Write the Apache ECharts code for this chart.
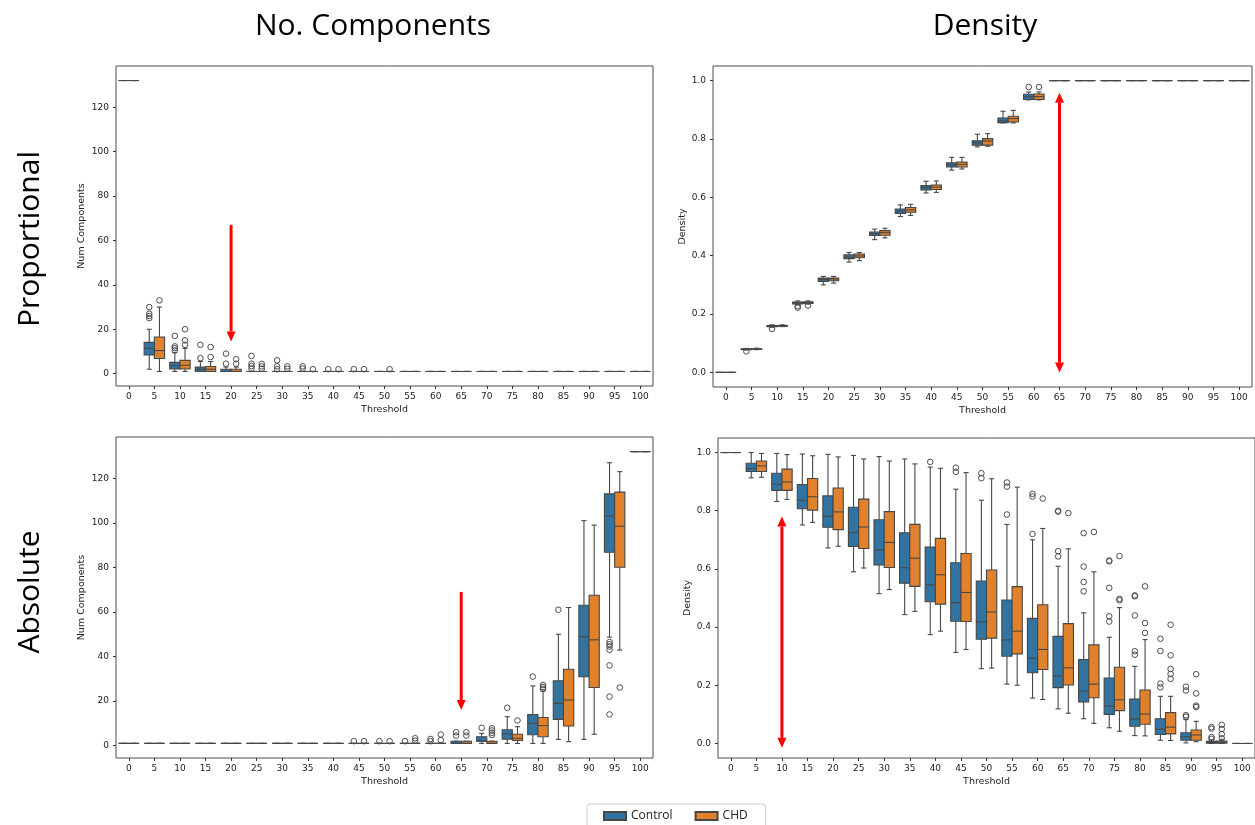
<!DOCTYPE html>
<html>
<head>
<meta charset="utf-8">
<title>Threshold boxplots</title>
<script src="https://cdn.jsdelivr.net/npm/echarts@6/dist/echarts.min.js"></script>
<style>
  html, body { margin: 0; padding: 0; background: #fff; }
  #main { width: 1255px; height: 825px; }
</style>
</head>
<body>
<div id="main"></div>
<script>
// categories and ticks
var thresholds = ['0','5','10','15','20','25','30','35','40','45','50','55','60','65','70','75','80','85','90','95','100'];
var compTicks = [0, 20, 40, 60, 80, 100, 120];
var densTicks = [0, 0.2, 0.4, 0.6, 0.8, 1.0];

// box stats per threshold: [lower whisker, q1, median, q3, upper whisker]
var one = [1, 1, 1, 1, 1];
var propCompCtrl = [
  [132,132,132,132,132], [2,8.4,11.4,14.1,20], [1,2.1,3.6,5.1,9.5], [1,1,2,3,5.5], [1,1,1,2,3],
  one, one, one, one, one, one, one, one, one, one, one, one, one, one, one, one
];
var propCompChd = [
  [132,132,132,132,132], [1,6.8,10.4,16.5,30], [1,2.1,3.8,6,11.4], [1,1,2,3.2,5.5], [1,1,1,2,3],
  one, one, one, one, one, one, one, one, one, one, one, one, one, one, one, one
];
var propCompCtrlOut = [[1,30],[1,27],[1,26],[1,25],[2,17],[2,12.3],[2,11.5],[2,10.5],[3,13],[3,7],[4,9],[4,4.5],
  [5,8],[5,4.5],[5,3.4],[5,2.3],[6,6],[6,3.3],[6,2],[7,3.3],[7,2.3],[8,2],[9,2]];
var propCompChdOut = [[1,33],[2,20],[2,15],[2,13],[3,12],[3,7.5],[4,6.5],[4,4.5],[5,4.4],[5,3.3],[5,2.2],
  [6,3.3],[6,2.2],[7,2],[8,2],[9,2],[10,2]];

var full = [1, 1, 1, 1, 1];
var propDensCtrl = [
  [0,0,0,0,0], [0.077,0.078,0.079,0.081,0.082], [0.155,0.157,0.159,0.161,0.163], [0.232,0.235,0.238,0.241,0.245],
  [0.300,0.312,0.318,0.323,0.329], [0.378,0.390,0.395,0.403,0.411], [0.455,0.469,0.475,0.481,0.491],
  [0.534,0.545,0.553,0.560,0.574], [0.615,0.625,0.633,0.640,0.655], [0.693,0.704,0.711,0.718,0.737],
  [0.773,0.779,0.787,0.794,0.816], [0.855,0.856,0.862,0.872,0.895], [0.934,0.935,0.944,0.953,0.961],
  full, full, full, full, full, full, full, full
];
var propDensChd = [
  [0,0,0,0,0], [0.078,0.079,0.080,0.081,0.083], [0.157,0.158,0.160,0.161,0.163], [0.234,0.236,0.239,0.242,0.245],
  [0.306,0.314,0.320,0.323,0.329], [0.383,0.393,0.399,0.406,0.411], [0.461,0.470,0.479,0.486,0.494],
  [0.538,0.549,0.557,0.565,0.576], [0.617,0.627,0.635,0.642,0.656], [0.697,0.704,0.713,0.721,0.737],
  [0.775,0.779,0.793,0.801,0.818], [0.855,0.858,0.870,0.878,0.898], [0.934,0.935,0.945,0.954,0.961],
  full, full, full, full, full, full, full, full
];
var propDensCtrlOut = [[1,0.072],[2,0.149],[3,0.227],[3,0.222],[12,0.978]];
var propDensChdOut = [[3,0.229],[12,0.978]];

var absCompCtrl = [
  one, one, one, one, one, one, one, one, one, one, one, one, one,
  [1,1,1,2,2], [1,2,2,4,5.5], [1,2.9,5.3,7.1,13], [1,4.9,10,13.9,26.8], [2.8,11.8,19,29.1,50],
  [2.8,30.9,48.9,63,101], [48.7,86.8,103,113,127], [132,132,132,132,132]
];
var absCompChd = [
  one, one, one, one, one, one, one, one, one, one, one, one, one,
  [1,1,1,2,2], [1,1,1,2,2], [1,2.3,3.3,5.1,8.5], [1,4,9,12.6,24.5], [1.8,8.8,20.5,34.3,62],
  [5.1,26.1,47.5,67.5,99], [42.9,80.1,98.5,113.8,123], [132,132,132,132,132]
];
var absCompCtrlOut = [[9,2],[10,2],[11,2],[12,3],[12,2],[13,6],[13,4.5],[14,8],[15,17],[16,31],[17,61],
  [19,46.5],[19,45.5],[19,44.5],[19,43],[19,36],[19,22],[19,14]];
var absCompChdOut = [[9,2],[10,2],[11,3.3],[11,2.2],[12,5],[12,2.5],[13,6],[13,4.5],[14,7.8],[14,6.8],[14,5.8],[14,4.8],
  [15,11.3],[16,25.5],[16,26.3],[16,27.2],[19,26.1]];

var absDensCtrl = [
  [1,1,1,1,1], [0.913,0.935,0.945,0.963,1.0], [0.832,0.870,0.891,0.929,0.997], [0.751,0.807,0.836,0.890,0.995],
  [0.672,0.743,0.781,0.851,0.994], [0.590,0.677,0.725,0.812,0.990], [0.515,0.614,0.665,0.769,0.986],
  [0.443,0.551,0.604,0.724,0.978], [0.374,0.487,0.545,0.675,0.950], [0.313,0.420,0.484,0.621,0.874],
  [0.257,0.358,0.418,0.558,0.836], [0.204,0.300,0.356,0.493,0.753], [0.156,0.243,0.293,0.430,0.700],
  [0.119,0.192,0.232,0.368,0.609], [0.085,0.143,0.180,0.288,0.449], [0.054,0.100,0.129,0.225,0.365],
  [0.027,0.059,0.084,0.153,0.265], [0.011,0.031,0.049,0.085,0.162], [0.002,0.011,0.023,0.037,0.082],
  [0,0.001,0.003,0.007,0.012], [0,0,0,0,0]
];
var absDensChd = [
  [1,1,1,1,1], [0.915,0.935,0.954,0.971,0.997], [0.839,0.870,0.899,0.943,0.993], [0.760,0.802,0.848,0.911,0.989],
  [0.678,0.735,0.796,0.878,0.985], [0.603,0.670,0.744,0.840,0.978], [0.529,0.605,0.691,0.797,0.971],
  [0.454,0.540,0.637,0.753,0.961], [0.386,0.479,0.580,0.705,0.946], [0.323,0.419,0.519,0.653,0.931],
  [0.259,0.362,0.452,0.596,0.910], [0.200,0.308,0.386,0.539,0.881], [0.151,0.254,0.323,0.477,0.739],
  [0.104,0.201,0.260,0.412,0.669], [0.069,0.157,0.204,0.339,0.590], [0.042,0.113,0.150,0.262,0.467],
  [0.026,0.066,0.101,0.184,0.357], [0.010,0.033,0.056,0.106,0.162], [0.006,0.011,0.029,0.046,0.076],
  [0,0.001,0.004,0.008,0.014], [0,0,0,0,0]
];
var absDensCtrlOut = [[8,0.968],[9,0.948],[9,0.934],[10,0.929],[10,0.912],[11,0.897],[11,0.883],[11,0.787],
  [12,0.858],[12,0.849],[12,0.72],[13,0.8],[13,0.797],[13,0.661],[13,0.643],[14,0.723],[14,0.608],[14,0.555],[14,0.523],
  [15,0.629],[15,0.626],[15,0.535],[15,0.437],[15,0.419],[16,0.509],[16,0.506],[16,0.44],[16,0.317],[16,0.305],
  [17,0.36],[17,0.318],[17,0.206],[17,0.193],[18,0.195],[18,0.182],[18,0.097],[18,0.092],
  [19,0.056],[19,0.051],[19,0.022],[19,0.016]];
var absDensChdOut = [[12,0.842],[13,0.792],[14,0.727],[15,0.644],[15,0.497],[15,0.492],[16,0.54],[16,0.414],[16,0.38],
  [17,0.408],[17,0.303],[17,0.256],[17,0.239],[17,0.222],[18,0.238],[18,0.172],[18,0.13],[18,0.125],
  [19,0.064],[19,0.05],[19,0.032],[19,0.018]];

// red arrows: [category index, from, to, double-headed]
var arrowsPropComp = [[4, 67, 14.5, 0]];
var arrowsPropDens = [[13, 0.0, 0.958, 1]];
var arrowsAbsComp = [[13, 69, 16, 0]];
var arrowsAbsDens = [[2, 0.78, -0.015, 1]];

var CTRL = '#3274a1', CHD = '#e1812c', EDGE = '#474747';
var FONT = 'DejaVu Sans';

function boxItem(side) {
  return function (params, api) {
    var idx = api.value(0);
    var band = api.size([1, 0])[0];
    var w = band * 0.4;
    var cx = api.coord([idx, 0])[0] + side * w / 2;
    function y(k) { return api.coord([idx, api.value(k)])[1]; }
    var lo = y(1), q1 = y(2), md = y(3), q3 = y(4), hi = y(5);
    var ls = { stroke: EDGE, lineWidth: 1.1 };
    return {
      type: 'group',
      children: [
        { type: 'line', shape: { x1: cx, y1: q3, x2: cx, y2: hi }, style: ls },
        { type: 'line', shape: { x1: cx, y1: q1, x2: cx, y2: lo }, style: ls },
        { type: 'line', shape: { x1: cx - w / 4, y1: hi, x2: cx + w / 4, y2: hi }, style: ls },
        { type: 'line', shape: { x1: cx - w / 4, y1: lo, x2: cx + w / 4, y2: lo }, style: ls },
        { type: 'rect', shape: { x: cx - w / 2, y: q3, width: w, height: q1 - q3 },
          style: { fill: api.visual('color'), stroke: EDGE, lineWidth: 1.1 } },
        { type: 'line', shape: { x1: cx - w / 2, y1: md, x2: cx + w / 2, y2: md }, style: ls }
      ]
    };
  };
}

function outItem(side) {
  return function (params, api) {
    var band = api.size([1, 0])[0];
    var p = api.coord([api.value(0), api.value(1)]);
    return {
      type: 'circle',
      shape: { cx: p[0] + side * band * 0.2, cy: p[1], r: 2.8 },
      style: { fill: 'none', stroke: '#4d4d4d', lineWidth: 1 }
    };
  };
}

function arrowItem(params, api) {
  var idx = api.value(0);
  var a = api.coord([idx, api.value(1)]);
  var b = api.coord([idx, api.value(2)]);
  var both = api.value(3);
  var x = a[0], hl = 10, hw = 4.5;
  var dir = b[1] > a[1] ? 1 : -1;
  var kids = [
    { type: 'line', shape: { x1: x, y1: both ? a[1] + dir * hl : a[1], x2: x, y2: b[1] - dir * hl },
      style: { stroke: '#ff0000', lineWidth: 3 } },
    { type: 'polygon', shape: { points: [[x, b[1]], [x - hw, b[1] - dir * hl], [x + hw, b[1] - dir * hl]] },
      style: { fill: '#ff0000' } }
  ];
  if (both) {
    kids.push({ type: 'polygon', shape: { points: [[x, a[1]], [x - hw, a[1] + dir * hl], [x + hw, a[1] + dir * hl]] },
      style: { fill: '#ff0000' } });
  }
  return { type: 'group', children: kids };
}

function withIndex(rows) {
  return rows.map(function (r, i) { return [i].concat(r); });
}

var grids = [
  { left: 116, top: 66, width: 537, height: 320 },
  { left: 713, top: 66, width: 539, height: 321 },
  { left: 116, top: 437, width: 537, height: 321 },
  { left: 718, top: 438, width: 537, height: 320 }
];

function xAxisFor(i) {
  return {
    type: 'category', gridIndex: i, data: thresholds, boundaryGap: true, position: 'bottom',
    name: 'Threshold', nameLocation: 'middle', nameGap: 19,
    nameTextStyle: { fontFamily: FONT, fontSize: 9.5, color: '#222' },
    axisLine: { show: false, onZero: false },
    axisTick: { show: true, alignWithLabel: true, interval: 0, length: 3, lineStyle: { color: '#333' } },
    axisLabel: { interval: 0, fontFamily: FONT, fontSize: 9, color: '#222', margin: 6 },
    splitLine: { show: false }
  };
}

function yAxisFor(i, isDens) {
  return {
    type: 'value', gridIndex: i, position: 'left',
    min: isDens ? -0.05 : -5.55, max: isDens ? 1.05 : 138.55,
    name: isDens ? 'Density' : 'Num Components', nameLocation: 'middle', nameGap: isDens ? 25 : 29,
    nameTextStyle: { fontFamily: FONT, fontSize: 9.5, color: '#222' },
    axisLine: { show: false, onZero: false },
    axisTick: { show: true, length: 3, lineStyle: { color: '#333' }, customValues: isDens ? densTicks : compTicks },
    axisLabel: {
      fontFamily: FONT, fontSize: 9, color: '#222', margin: 7,
      customValues: isDens ? densTicks : compTicks,
      formatter: function (v) { return isDens ? v.toFixed(1) : String(v); }
    },
    splitLine: { show: false }
  };
}

var panels = [
  [propCompCtrl, propCompChd, propCompCtrlOut, propCompChdOut, arrowsPropComp],
  [propDensCtrl, propDensChd, propDensCtrlOut, propDensChdOut, arrowsPropDens],
  [absCompCtrl, absCompChd, absCompCtrlOut, absCompChdOut, arrowsAbsComp],
  [absDensCtrl, absDensChd, absDensCtrlOut, absDensChdOut, arrowsAbsDens]
];

var series = [];
panels.forEach(function (p, i) {
  var ax = { xAxisIndex: i, yAxisIndex: i };
  series.push(Object.assign({
    name: 'Control', type: 'custom', renderItem: boxItem(-1), data: withIndex(p[0]),
    encode: { x: 0, y: [1, 2, 3, 4, 5] },
    itemStyle: { color: CTRL, borderColor: EDGE, borderWidth: 1 }
  }, ax));
  series.push(Object.assign({
    name: 'CHD', type: 'custom', renderItem: boxItem(1), data: withIndex(p[1]),
    encode: { x: 0, y: [1, 2, 3, 4, 5] },
    itemStyle: { color: CHD, borderColor: EDGE, borderWidth: 1 }
  }, ax));
  series.push(Object.assign({
    name: 'ctrl-out', type: 'custom', renderItem: outItem(-1), data: p[2], encode: { x: 0, y: 1 }
  }, ax));
  series.push(Object.assign({
    name: 'chd-out', type: 'custom', renderItem: outItem(1), data: p[3], encode: { x: 0, y: 1 }
  }, ax));
  series.push(Object.assign({
    name: 'arrow', type: 'custom', renderItem: arrowItem, data: p[4], encode: { x: 0, y: [1, 2] }, z: 5
  }, ax));
});

var chart = echarts.init(document.getElementById('main'), null, { renderer: 'canvas' });
chart.setOption({
  animation: false,
  backgroundColor: '#fff',
  grid: grids.map(function (g) {
    return Object.assign({ show: true, borderColor: '#4d4d4d', borderWidth: 1, backgroundColor: 'transparent' }, g);
  }),
  xAxis: [0, 1, 2, 3].map(xAxisFor),
  yAxis: [yAxisFor(0, false), yAxisFor(1, true), yAxisFor(2, false), yAxisFor(3, true)],
  legend: {
    data: ['Control', 'CHD'],
    left: 587, top: 804,
    icon: 'rect', itemWidth: 22, itemHeight: 8, itemGap: 22,
    padding: [6, 18, 12, 16],
    borderColor: '#cccccc', borderWidth: 1, borderRadius: 3,
    textStyle: { fontFamily: 'Open Sans', fontSize: 12, color: '#222' },
    selectedMode: false
  },
  graphic: [
    { type: 'text', x: 373, y: 26, style: { text: 'No. Components', font: '30px "Open Sans"', fill: '#000', textAlign: 'center', textVerticalAlign: 'middle' } },
    { type: 'text', x: 985, y: 26, style: { text: 'Density', font: '30px "Open Sans"', fill: '#000', textAlign: 'center', textVerticalAlign: 'middle' } },
    { type: 'text', x: 30, y: 239, rotation: Math.PI / 2, style: { text: 'Proportional', font: '30px "Open Sans"', fill: '#000', textAlign: 'center', textVerticalAlign: 'middle' } },
    { type: 'text', x: 30, y: 592, rotation: Math.PI / 2, style: { text: 'Absolute', font: '30px "Open Sans"', fill: '#000', textAlign: 'center', textVerticalAlign: 'middle' } }
  ],
  series: series
});
</script>
</body>
</html>
